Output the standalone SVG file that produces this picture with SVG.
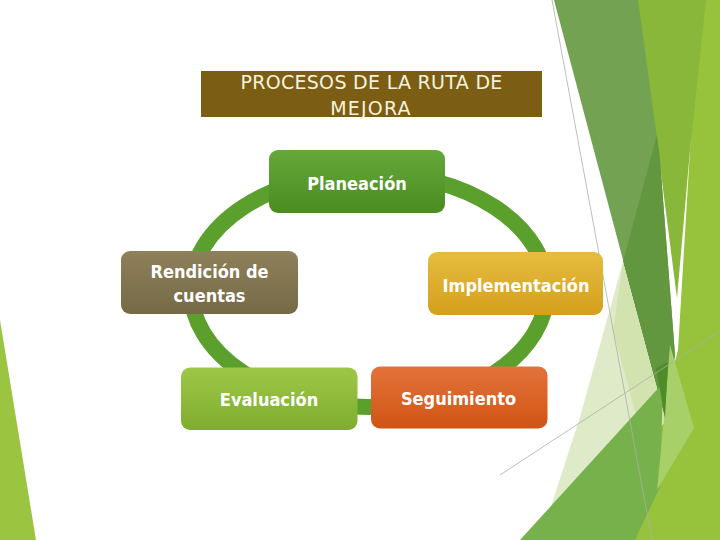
<svg xmlns="http://www.w3.org/2000/svg" width="720" height="540" viewBox="0 0 720 540">
<defs>
<linearGradient id="gPlan" x1="0" y1="0" x2="0" y2="1"><stop offset="0" stop-color="#65a83a"/><stop offset="1" stop-color="#4a8c20"/></linearGradient>
<linearGradient id="gRend" x1="0" y1="0" x2="0" y2="1"><stop offset="0" stop-color="#8d805b"/><stop offset="1" stop-color="#766a46"/></linearGradient>
<linearGradient id="gImpl" x1="0" y1="0" x2="0" y2="1"><stop offset="0" stop-color="#e6bc40"/><stop offset="1" stop-color="#d4a01c"/></linearGradient>
<linearGradient id="gEval" x1="0" y1="0" x2="0" y2="1"><stop offset="0" stop-color="#9dc747"/><stop offset="1" stop-color="#80ad2e"/></linearGradient>
<linearGradient id="gSeg" x1="0" y1="0" x2="0" y2="1"><stop offset="0" stop-color="#e3723b"/><stop offset="1" stop-color="#d05514"/></linearGradient>
</defs>
<style>
.node text{font-family:"DejaVu Sans Condensed","DejaVu Sans",Verdana,sans-serif;font-stretch:condensed;font-weight:bold;font-size:18px;fill:#ffffff;text-anchor:middle}
.title{font-family:"DejaVu Sans",Verdana,sans-serif;font-size:19px;fill:#f7f2dc;text-anchor:middle}
.thin{stroke:#a9b0a6;stroke-width:0.8;fill:none}
</style>
<rect width="720" height="540" fill="#ffffff"/>
<g id="decoration">
<polygon points="0,320 36,540 0,540" fill="#9bc540"/>
<polygon points="700,0 720,0 720,540 628,540 678,350 690,150" fill="#97c33c"/>
<polygon points="636,0 706,0 690,150 677,298 658,150" fill="#88b739"/>
<polygon points="554,0 638,0 660,160 675,355 665,418" fill="#72a252"/>
<polygon points="657,135 660,160 675,355 665,418 623,262" fill="#62973f"/>
<polygon points="623,262 666,422 545,525 580,417" fill="#dfeac8"/>
<polygon points="623,262 666,422 640,430 613,330" fill="#d3e3b0"/>
<polygon points="663,383 660,487 635,540 520,540" fill="#77b14b"/>
<polygon points="670,345 694,428 657,490 664,420" fill="#a8d068"/>
<polygon points="656,368 668,362 665,418" fill="#4e8c2a"/>
<line class="thin" x1="552" y1="0" x2="652" y2="540"/>
<line class="thin" x1="500" y1="475" x2="720" y2="331"/>
</g>
<g id="title">
<rect x="201" y="71" width="341" height="46" fill="#7b5e13"/>
<text class="title" x="371.5" y="89" letter-spacing="0.3">PROCESOS DE LA RUTA DE</text>
<text class="title" x="371" y="115" letter-spacing="1.2">MEJORA</text>
</g>
<g id="connectors">
<ellipse cx="369" cy="290" rx="178" ry="117" fill="none" stroke="#5b9f2d" stroke-width="16"/>
</g>
<g id="planeacion" class="node">
<rect x="269" y="150" width="176" height="63" rx="9" fill="url(#gPlan)"/>
<text x="357" y="190">Planeación</text>
</g>
<g id="implementacion" class="node">
<rect x="428" y="252" width="175" height="63" rx="9" fill="url(#gImpl)"/>
<text x="516" y="291.5">Implementación</text>
</g>
<g id="seguimiento" class="node">
<rect x="371" y="366.5" width="176.5" height="62" rx="9" fill="url(#gSeg)"/>
<text x="458.5" y="405">Seguimiento</text>
</g>
<g id="evaluacion" class="node">
<rect x="181" y="367.5" width="176.5" height="62.5" rx="9" fill="url(#gEval)"/>
<text x="269" y="406">Evaluación</text>
</g>
<g id="rendicion" class="node">
<rect x="121" y="251" width="177" height="63" rx="9" fill="url(#gRend)"/>
<text x="209.5" y="277.5">Rendición de</text>
<text x="209.5" y="301.5">cuentas</text>
</g>
</svg>
